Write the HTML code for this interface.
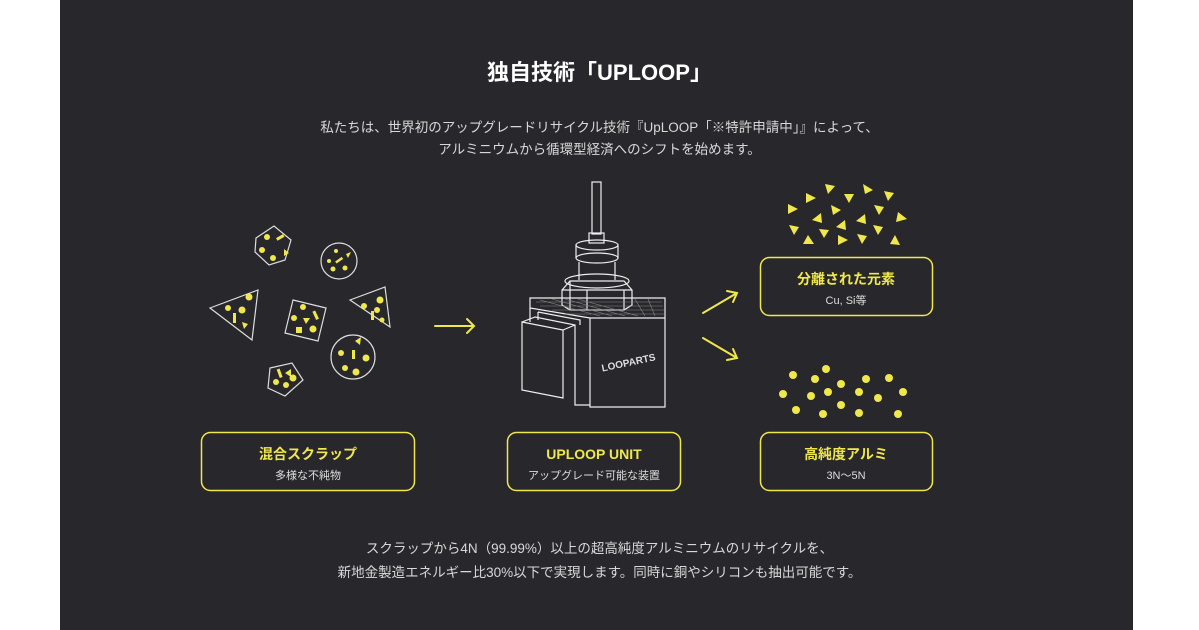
<!DOCTYPE html>
<html><head><meta charset="utf-8"><style>
body{margin:0;width:1199px;height:630px;background:#fff;overflow:hidden;font-family:"Liberation Sans","Noto Sans CJK JP",sans-serif}
.p{position:absolute;left:60px;top:0;width:1073px;height:630px;background:#28282c}
.t{position:absolute;left:0;width:1199px;text-align:center;color:#d8d8d8}
</style></head><body>
<div class="p"></div>
<div class="t" style="top:55px;font-size:22px;font-weight:bold;color:#fff">独自技術「UPLOOP」</div>
<div class="t" style="top:117px;font-size:13.5px;line-height:22px">私たちは、世界初のアップグレードリサイクル技術『UpLOOP「※特許申請中」』によって、<br>アルミニウムから循環型経済へのシフトを始めます。</div>
<div class="t" style="top:537px;font-size:13.5px;line-height:24px">スクラップから4N（99.99%）以上の超高純度アルミニウムのリサイクルを、<br>新地金製造エネルギー比30%以下で実現します。同時に銅やシリコンも抽出可能です。</div>
<svg style="position:absolute;left:0;top:0" width="1199" height="630" font-family="Liberation Sans,Noto Sans CJK JP,sans-serif">
<g fill="none" stroke="#ddd" stroke-width="1.2">
<polygon points="256,238 274,226 291,240 285,260 269,265 255,252"/>
<circle cx="339" cy="261" r="18"/>
<polygon points="210,308 258,290 252,340"/>
<polygon points="293,300 326,308 318,341 285,333"/>
<polygon points="350,300 385,287 390,327"/>
<circle cx="353" cy="357" r="22"/>
<polygon points="270,368 292,363 303,380 285,396 268,388"/>
</g>
<g fill="#f0e84a">
<circle cx="267" cy="237" r="3"/><rect x="276" y="236" width="8" height="3" transform="rotate(-30 280 237)"/><circle cx="262" cy="250" r="3"/><circle cx="273" cy="258" r="3"/><polygon points="284,249 289,253 284,256"/>
<circle cx="336" cy="251" r="2"/><circle cx="329" cy="261" r="2"/><rect x="335" y="259" width="8" height="2.5" transform="rotate(-35 339 260)"/><circle cx="333" cy="269" r="2.5"/><circle cx="345" cy="268" r="2.5"/><polygon points="346,254 351,252 348,258"/>
<circle cx="249" cy="297" r="3.5"/><circle cx="228" cy="308" r="3"/><circle cx="242" cy="310" r="3.5"/><rect x="233" y="313" width="3" height="10"/><polygon points="242,322 248,324 244,329"/>
<circle cx="303" cy="307" r="3"/><rect x="314" y="311" width="3" height="9" transform="rotate(-25 315 315)"/><circle cx="294" cy="318" r="3"/><polygon points="303,318 310,318 306,324"/><rect x="296" y="327" width="6" height="6"/><circle cx="313" cy="329" r="3.5"/>
<circle cx="380" cy="300" r="3.5"/><circle cx="364" cy="306" r="3"/><circle cx="377" cy="310" r="3"/><rect x="371" y="311" width="3" height="9"/><circle cx="382" cy="320" r="2.5"/>
<polygon points="355,341 361,337 360,345"/><circle cx="341" cy="353" r="3"/><rect x="352" y="350" width="3" height="9"/><circle cx="366" cy="358" r="3.5"/><circle cx="345" cy="368" r="3"/><circle cx="356" cy="372" r="3.5"/>
<rect x="278" y="369" width="3" height="9" transform="rotate(-20 279 373)"/><polygon points="285,373 291,369 291,377"/><circle cx="276" cy="382" r="3"/><circle cx="286" cy="385" r="3"/><circle cx="293" cy="378" r="3.5"/>
</g>
<g stroke="#f0e84a" stroke-width="2" fill="none" stroke-linecap="round">
<path d="M435,326 H474 M467,319 L474,326 L467,333"/>
<path d="M703,313 L737,293 M727,291 L737,293 L733,302"/>
<path d="M703,338 L737,358 M733,349 L737,358 L727,360"/>
</g>
<g fill="#f0e84a">
<circle cx="793" cy="375" r="4"/><circle cx="826" cy="369" r="4"/><circle cx="815" cy="379" r="4"/><circle cx="841" cy="384" r="4"/><circle cx="866" cy="379" r="4"/><circle cx="889" cy="378" r="4"/><circle cx="783" cy="394" r="4"/><circle cx="811" cy="396" r="4"/><circle cx="828" cy="392" r="4"/><circle cx="859" cy="392" r="4"/><circle cx="878" cy="398" r="4"/><circle cx="903" cy="392" r="4"/><circle cx="796" cy="410" r="4"/><circle cx="823" cy="414" r="4"/><circle cx="841" cy="405" r="4"/><circle cx="859" cy="413" r="4"/><circle cx="898" cy="414" r="4"/>
<polygon points="825,184 835,186 828,194"/><polygon points="863,184 873,190 865,194"/><polygon points="884,191 894,193 888,201"/><polygon points="806,193 816,198 806,203"/><polygon points="844,194 854,194 849,203"/><polygon points="788,204 798,209 788,214"/><polygon points="831,205 841,210 833,215"/><polygon points="874,205 884,207 879,215"/><polygon points="898,212 907,219 896,222"/><polygon points="821,213 822,223 812,220"/><polygon points="865,214 866,224 856,221"/><polygon points="845,220 846,230 836,227"/><polygon points="789,225 799,227 794,235"/><polygon points="819,229 829,230 824,238"/><polygon points="873,225 883,227 878,235"/><polygon points="808,235 814,244 803,244"/><polygon points="838,235 848,240 838,245"/><polygon points="857,234 867,236 862,244"/><polygon points="895,235 900,245 890,244"/>
</g>
<g fill="none" stroke="#eee" stroke-width="1.2">
<rect x="592" y="182" width="9" height="52"/>
<rect x="589" y="233" width="15" height="10"/>
<ellipse cx="597" cy="245" rx="21" ry="5"/>
<path d="M576,245 V258 M618,245 V258"/>
<ellipse cx="597" cy="258" rx="21" ry="5"/>
<path d="M579,262 V280 M615,262 V280"/>
<ellipse cx="597" cy="281" rx="32" ry="7"/>
<path d="M562,290 L570,281 L624,281 L632,290 V305 L624,310 H570 L562,305 Z M570,281 V310 M587,290 V310 M624,290 V310 M562,290 H632"/>
<path d="M530,298 H665 V318 H590 L530,308 Z M590,318 V407 H665 V318"/>
<path d="M530,308 V322 M575,395 V405 H590"/>
<path d="M538,312 V320 M538,312 L580,320 V325"/>
<path d="M522,322 L563,330 V398 L522,390 Z M522,322 L535,317 L575,325 V395 M563,330 L575,325"/>
</g>
<g stroke="#888" stroke-width="0.6">
<path d="M540,300 L600,316 M552,299 L612,316 M565,299 L625,316 M578,299 L638,316 M635,299 L645,316 M648,299 L655,316 M536,302 H662 M540,306 H663 M552,310 H664 M565,314 H664"/>
</g>
<text x="628" y="366" fill="#ddd" font-size="10" font-weight="bold" text-anchor="middle" transform="rotate(-12 628 360)">LOOPARTS</text>
<g fill="none" stroke="#f0e84a" stroke-width="1.5">
<rect x="201.5" y="432.5" width="213" height="58" rx="9"/>
<rect x="507.5" y="432.5" width="173" height="58" rx="9"/>
<rect x="760.5" y="432.5" width="172" height="58" rx="9"/>
<rect x="760.5" y="257.5" width="172" height="58" rx="9"/>
</g>
<g text-anchor="middle">
<text x="308" y="459" fill="#f0e84a" font-size="14" font-weight="bold">混合スクラップ</text>
<text x="308" y="479" fill="#ddd" font-size="11">多様な不純物</text>
<text x="594" y="459" fill="#f0e84a" font-size="14" font-weight="bold">UPLOOP UNIT</text>
<text x="594" y="479" fill="#ddd" font-size="11">アップグレード可能な装置</text>
<text x="846" y="459" fill="#f0e84a" font-size="14" font-weight="bold">高純度アルミ</text>
<text x="846" y="479" fill="#ddd" font-size="11">3N〜5N</text>
<text x="846" y="284" fill="#f0e84a" font-size="14" font-weight="bold">分離された元素</text>
<text x="846" y="304" fill="#ddd" font-size="11">Cu, Si等</text>
</g>
</svg>
</body></html>
